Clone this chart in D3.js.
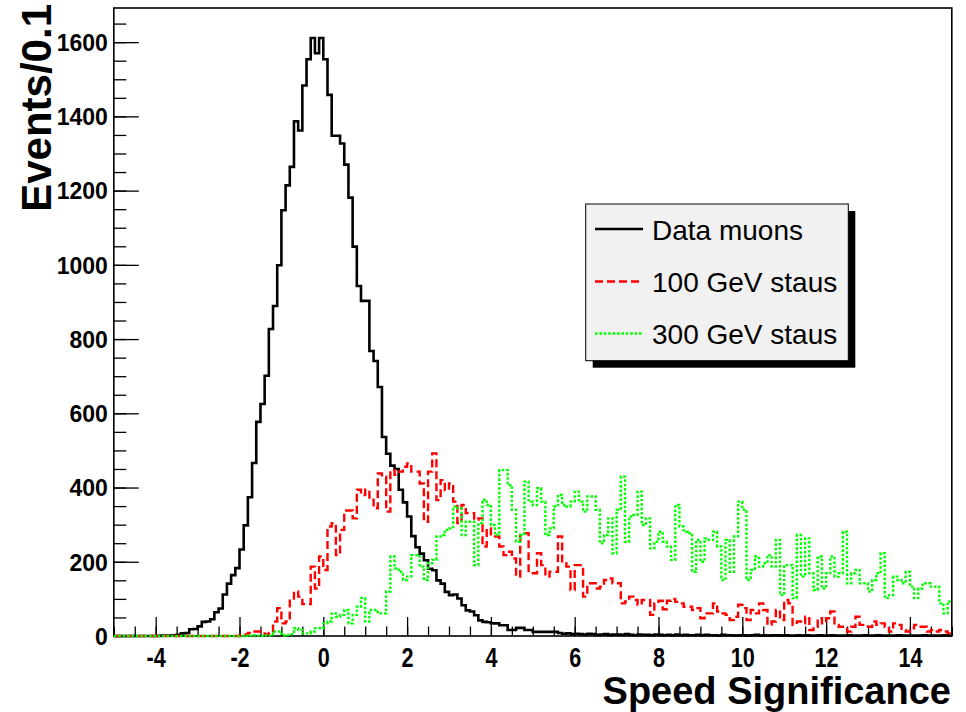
<!DOCTYPE html>
<html>
<head>
<meta charset="utf-8">
<script src="https://cdn.jsdelivr.net/npm/d3@7"></script>
<style>
    body { margin: 0; background: #fff; }
    svg { display: block; }
    .tick text { font-family: "Liberation Sans", Arial, sans-serif; font-weight: bold; }
</style>
</head>
<body>
<script>
// binning of the histograms: 200 bins of 0.1 from -5 to 15
let xMin = -5, xMax = 15, binWidth = 0.1;

let xTicks = [-4, -2, 0, 2, 4, 6, 8, 10, 12, 14];
let yTicks = [0, 200, 400, 600, 800, 1000, 1200, 1400, 1600];

let seriesNames = ["Data muons", "100 GeV staus", "300 GeV staus"];

// Data muons, events per bin
let dataMuons = [
    0, 0, 0, 0, 0, 0, 0, 0, 0, 0,
    0, 1, 1, 1, 2, 3, 7, 8, 18, 19,
    26, 38, 39, 45, 64, 74, 112, 141, 164, 183,
    233, 298, 374, 466, 577, 625, 701, 827, 889, 999,
    1147, 1214, 1264, 1387, 1362, 1483, 1554, 1611, 1570, 1611,
    1554, 1458, 1348, 1348, 1327, 1270, 1181, 1049, 943, 903,
    903, 768, 741, 671, 536, 491, 459, 450, 394, 360,
    322, 269, 239, 222, 204, 181, 177, 150, 141, 119,
    110, 112, 101, 83, 69, 66, 56, 42, 38, 37,
    34, 34, 29, 29, 16, 16, 22, 22, 16, 16,
    11, 11, 11, 11, 11, 11, 8, 6, 7, 5,
    6, 5, 4, 6, 5, 3, 4, 5, 3, 4,
    4, 3, 5, 3, 2, 4, 3, 3, 2, 4,
    3, 2, 3, 2, 4, 2, 3, 2, 2, 3,
    2, 3, 2, 2, 1, 3, 2, 2, 1, 2,
    2, 1, 2, 3, 1, 2, 1, 2, 2, 1,
    2, 1, 1, 2, 1, 2, 1, 1, 2, 1,
    1, 2, 1, 1, 1, 2, 1, 1, 1, 2,
    1, 1, 2, 1, 1, 1, 1, 2, 1, 1,
    1, 1, 1, 2, 1, 1, 1, 1, 2, 1
];

// 100 GeV staus
let stau100 = [
    0, 0, 0, 0, 0, 0, 0, 0, 0, 0,
    0, 0, 0, 0, 0, 0, 0, 0, 0, 0,
    0, 0, 0, 0, 0, 0, 0, 0, 0, 0,
    2, 4, 8, 12, 12, 7, 5, 8, 39, 75,
    34, 39, 95, 120, 106, 86, 86, 187, 128, 214,
    178, 295, 304, 218, 286, 338, 338, 317, 394, 380,
    394, 367, 344, 438, 429, 335, 447, 434, 443, 456,
    465, 443, 443, 411, 308, 443, 492, 366, 420, 393,
    411, 362, 304, 353, 331, 331, 313, 317, 241, 290,
    268, 268, 241, 218, 227, 209, 160, 277, 277, 169,
    169, 223, 191, 160, 173, 173, 268, 196, 187, 124,
    191, 191, 106, 142, 142, 128, 133, 151, 155, 142,
    142, 88, 93, 106, 97, 84, 97, 97, 57, 88,
    95, 72, 95, 100, 92, 88, 79, 79, 70, 75,
    48, 61, 61, 88, 66, 61, 57, 43, 52, 84,
    75, 43, 70, 61, 88, 70, 30, 39, 70, 43,
    97, 88, 30, 39, 34, 52, 16, 25, 48, 34,
    48, 66, 30, 25, 25, 12, 25, 52, 30, 30,
    25, 39, 30, 34, 25, 12, 34, 30, 16, 12,
    21, 30, 25, 25, 12, 16, 12, 16, 12, 7
];

// 300 GeV staus
let stau300 = [
    0, 0, 0, 0, 0, 0, 0, 0, 0, 0,
    0, 0, 0, 0, 0, 0, 0, 0, 0, 0,
    0, 0, 0, 0, 0, 0, 0, 0, 0, 0,
    0, 1, 0, 2, 1, 0, 2, 1, 12, 12,
    2, 3, 5, 21, 16, 7, 7, 12, 21, 21,
    34, 39, 61, 52, 57, 70, 34, 57, 79, 102,
    39, 70, 70, 61, 61, 120, 214, 182, 173, 151,
    160, 218, 218, 187, 151, 196, 205, 268, 272, 286,
    290, 349, 344, 272, 308, 308, 191, 304, 367, 353,
    299, 272, 447, 447, 407, 340, 254, 272, 416, 362,
    353, 398, 362, 272, 290, 349, 380, 353, 349, 362,
    389, 362, 335, 376, 376, 340, 250, 272, 317, 223,
    340, 429, 254, 322, 326, 389, 299, 317, 236, 254,
    281, 254, 241, 205, 353, 295, 281, 277, 173, 259,
    200, 263, 259, 281, 241, 151, 259, 173, 268, 362,
    340, 151, 178, 214, 187, 196, 218, 187, 259, 110,
    191, 191, 102, 272, 160, 263, 169, 124, 214, 128,
    169, 214, 160, 169, 281, 142, 169, 178, 142, 142,
    120, 151, 169, 223, 102, 110, 160, 151, 142, 173,
    133, 102, 128, 142, 142, 133, 133, 88, 61, 93
];

let svgContainer,
    svgWidth = 966,
    svgHeight = 712,
    frame = {
        left: 113.8,
        right: 951.8,
        top: 8,
        bottom: 636
    },
    yMax = 1692,
    xScale, yScale;

let fontFamily = '"Liberation Sans", Arial, Helvetica, sans-serif';
let red = "#ff0000", green = "#00ff00";

function init() {
    svgContainer = d3.select("body").append("svg")
        .attr("width", svgWidth)
        .attr("height", svgHeight);

    xScale = d3.scaleLinear().domain([xMin, xMax]).range([frame.left, frame.right]);
    yScale = d3.scaleLinear().domain([0, yMax]).range([frame.bottom, frame.top]);

    drawFrame();
    drawAxes();
    drawHistogram(dataMuons, "#000", null, 2.6);
    drawHistogram(stau100, red, "8,4", 2.4);
    drawHistogram(stau300, green, "2.6,1.8", 2.4);
    drawTitles();
    drawLegend();
}

function drawFrame() {
    svgContainer.append("rect")
        .attr("x", frame.left)
        .attr("y", frame.top)
        .attr("width", frame.right - frame.left)
        .attr("height", frame.bottom - frame.top)
        .style("fill", "none")
        .style("stroke", "#000")
        .style("stroke-width", 1.6);
}

function drawAxes() {
    // minor ticks first, labels come with the major ones
    let yMinor = d3.range(0, yMax, 50);
    let xMinor = d3.range(xMin, xMax + 0.001, 0.5);

    svgContainer.append("g")
        .attr("transform", "translate(" + frame.left + ",0)")
        .call(d3.axisLeft(yScale).tickValues(yMinor).tickSize(-12.5).tickFormat(""))
        .call(g => g.select(".domain").remove());

    svgContainer.append("g")
        .attr("transform", "translate(0," + frame.bottom + ")")
        .call(d3.axisBottom(xScale).tickValues(xMinor).tickSize(-9.5).tickFormat(""))
        .call(g => g.select(".domain").remove());

    let yAxis = svgContainer.append("g")
        .attr("transform", "translate(" + frame.left + ",0)")
        .call(d3.axisLeft(yScale).tickValues(yTicks).tickSize(-25).tickPadding(6).tickFormat(d => String(d)));
    yAxis.select(".domain").remove();
    yAxis.selectAll("text").style("font-size", "23px").attr("dy", "0.36em");

    // x labels are narrower and taller in the original
    let xAxis = svgContainer.append("g")
        .attr("transform", "translate(0," + frame.bottom + ")")
        .call(d3.axisBottom(xScale).tickValues(xTicks).tickSize(-19).tickPadding(12).tickFormat(d => String(d)));
    xAxis.select(".domain").remove();
    xAxis.selectAll("text")
        .style("font-size", "27px")
        .attr("transform", "scale(0.8,1)");

    svgContainer.selectAll(".tick line").style("stroke", "#000").style("stroke-width", 1.3);
}

function drawHistogram(values, color, dash, width) {
    let points = values.map((v, i) => [xScale(xMin + i * binWidth), yScale(v)]);
    points.push([xScale(xMax), yScale(values[values.length - 1])]);

    let line = d3.line().curve(d3.curveStepAfter);

    svgContainer.append("path")
        .attr("d", line(points))
        .style("fill", "none")
        .style("stroke", color)
        .style("stroke-width", width)
        .style("stroke-dasharray", dash);
}

function drawTitles() {
    svgContainer.append("text")
        .attr("transform", "translate(51,4) rotate(-90)")
        .attr("text-anchor", "end")
        .style("font-family", fontFamily)
        .style("font-weight", "bold")
        .style("font-size", "42px")
        .text("Events/0.1");

    svgContainer.append("text")
        .attr("x", 951)
        .attr("y", 704)
        .attr("text-anchor", "end")
        .style("font-family", fontFamily)
        .style("font-weight", "bold")
        .style("font-size", "38px")
        .text("Speed Significance");
}

function drawLegend() {
    let box = {x: 585.7, y: 204, w: 262.6, h: 156.7};
    let rows = [229, 281.5, 333.5];
    let styles = [
        {color: "#000", dash: null},
        {color: red, dash: "8,4"},
        {color: green, dash: "2.6,1.8"}
    ];

    svgContainer.append("rect")
        .attr("x", box.x + 7)
        .attr("y", box.y + 7)
        .attr("width", box.w)
        .attr("height", box.h)
        .style("fill", "#000");

    svgContainer.append("rect")
        .attr("x", box.x)
        .attr("y", box.y)
        .attr("width", box.w)
        .attr("height", box.h)
        .style("fill", "#f1f1f1")
        .style("stroke", "#000")
        .style("stroke-width", 1);

    seriesNames.forEach((name, i) => {
        svgContainer.append("line")
            .attr("x1", 595)
            .attr("x2", 643)
            .attr("y1", rows[i])
            .attr("y2", rows[i])
            .style("stroke", styles[i].color)
            .style("stroke-width", 2.4)
            .style("stroke-dasharray", styles[i].dash);

        svgContainer.append("text")
            .attr("x", 652)
            .attr("y", rows[i] + 10.5)
            .style("font-family", fontFamily)
            .style("font-size", "28px")
            .text(name);
    });
}

init();
</script>
</body>
</html>
